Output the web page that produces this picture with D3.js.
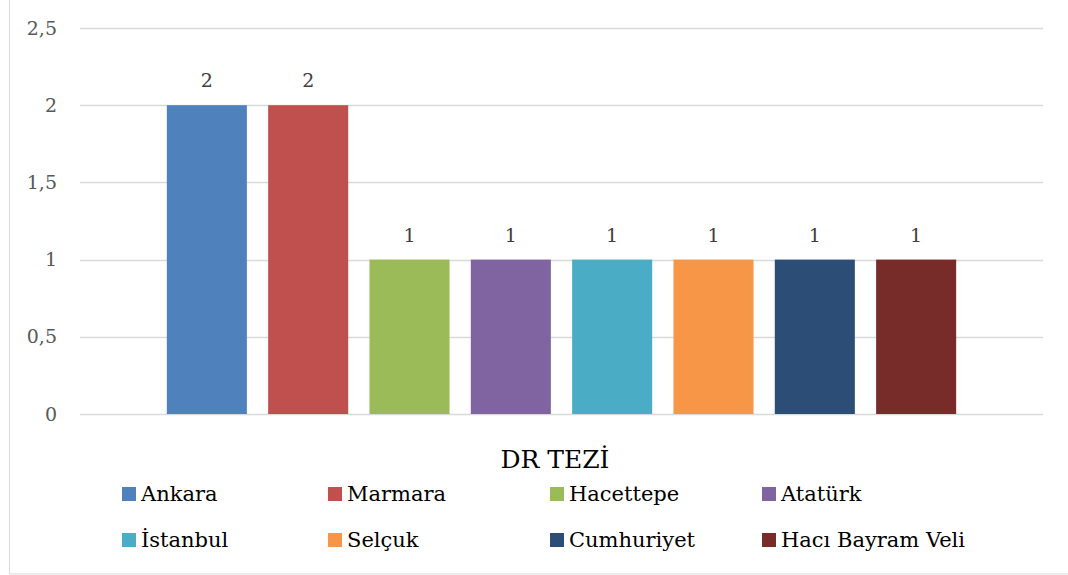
<!DOCTYPE html>
<html>
<head>
<meta charset="utf-8">
<script src="https://cdn.jsdelivr.net/npm/d3@7"></script>
<style>
  body { margin: 0; background: #fff; }
  svg { display: block; font-family: "DejaVu Serif", "Liberation Serif", serif; }
</style>
</head>
<body>
<svg id="chart" width="1068" height="575"></svg>
<script>
const category = "DR TEZİ";
const universities = ["Ankara", "Marmara", "Hacettepe", "Atatürk", "İstanbul", "Selçuk", "Cumhuriyet", "Hacı Bayram Veli"];
const counts = [2, 2, 1, 1, 1, 1, 1, 1];
const colors = ["#4f81bd", "#c0504d", "#9bbb59", "#8064a2", "#4bacc6", "#f79646", "#2c4d75", "#772c2a"];
const yTicks = [0, 0.5, 1, 1.5, 2, 2.5];

const svg = d3.select("#chart");

// chart frame (top and right edges fall outside the picture)
svg.append("rect")
  .attr("x", 9.5).attr("y", -10)
  .attr("width", 1100).attr("height", 584)
  .attr("fill", "none")
  .attr("stroke", "#d9d9d9");

const plot = { left: 80, right: 1043, top: 28, bottom: 414 };

const y = d3.scaleLinear()
  .domain([0, 2.5])
  .range([plot.bottom, plot.top]);

const x0 = d3.scaleBand()
  .domain([category])
  .range([plot.left, plot.right])
  .paddingInner(0)
  .paddingOuter(0.11);

const x1 = d3.scaleBand()
  .domain(universities)
  .range([0, x0.bandwidth()])
  .paddingInner(0.21)
  .paddingOuter(0);

const fmt = d => d3.format("")(d).replace(".", ",");

// gridlines
svg.append("g")
  .selectAll("line")
  .data(yTicks)
  .join("line")
  .attr("x1", plot.left).attr("x2", plot.right)
  .attr("y1", d => Math.round(y(d)) + 0.5)
  .attr("y2", d => Math.round(y(d)) + 0.5)
  .attr("stroke", "#d9d9d9")
  .attr("stroke-width", 1.5);

// y axis labels
const yAxis = svg.append("g")
  .attr("transform", `translate(${plot.left}, 0)`)
  .call(d3.axisLeft(y).tickValues(yTicks).tickFormat(fmt).tickSize(0).tickPadding(23));
yAxis.select(".domain").remove();
yAxis.selectAll("text")
  .attr("font-family", "DejaVu Serif, serif")
  .attr("font-size", 19)
  .attr("fill", "#595959");

// bars
const groupX = x0(category);
svg.append("g")
  .selectAll("rect")
  .data(universities)
  .join("rect")
  .attr("x", d => groupX + x1(d))
  .attr("y", (d, i) => y(counts[i]))
  .attr("width", x1.bandwidth())
  .attr("height", (d, i) => y(0) - y(counts[i]))
  .attr("fill", (d, i) => colors[i]);

// data labels
svg.append("g")
  .selectAll("text")
  .data(universities)
  .join("text")
  .attr("x", d => groupX + x1(d) + x1.bandwidth() / 2)
  .attr("y", (d, i) => y(counts[i]) - 18)
  .attr("text-anchor", "middle")
  .attr("font-size", 19)
  .attr("fill", "#404040")
  .text((d, i) => fmt(counts[i]));

// category label
svg.append("text")
  .attr("x", 555)
  .attr("y", 468)
  .attr("text-anchor", "middle")
  .attr("font-size", 25)
  .attr("fill", "#000")
  .text(category);

// legend: 4 columns, 2 rows
const legendCols = [122, 328, 550, 762];
const legendRows = [494, 540];
const legend = svg.append("g")
  .selectAll("g")
  .data(universities)
  .join("g")
  .attr("transform", (d, i) => `translate(${legendCols[i % 4]}, ${legendRows[Math.floor(i / 4)]})`);

legend.append("rect")
  .attr("x", 0).attr("y", -7)
  .attr("width", 14).attr("height", 14)
  .attr("fill", (d, i) => colors[i]);

legend.append("text")
  .attr("x", 19)
  .attr("y", 7)
  .attr("font-size", 21)
  .attr("fill", "#000")
  .text(d => d);
</script>
</body>
</html>
